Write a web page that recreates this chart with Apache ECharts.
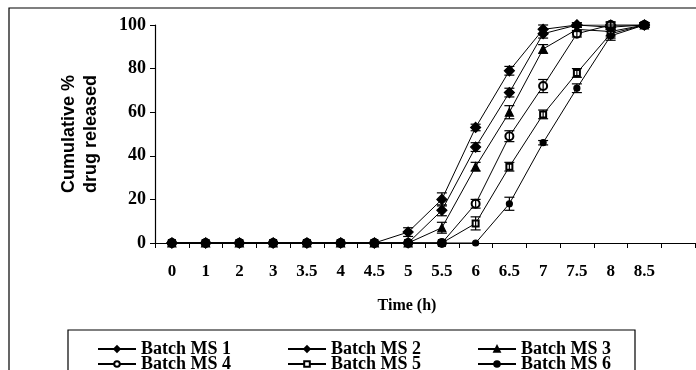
<!DOCTYPE html>
<html>
<head>
<meta charset="utf-8">
<script src="https://cdn.jsdelivr.net/npm/echarts@6/dist/echarts.min.js"></script>
<style>
  html, body { margin: 0; padding: 0; background: #fff; }
  #myChart { width: 696px; height: 370px; }
</style>
</head>
<body>
<div id="myChart"></div>
<script>
// time points (h), last slot is an empty category
const timeLabels = ["0", "1", "2", "3", "3.5", "4", "4.5", "5", "5.5", "6", "6.5", "7", "7.5", "8", "8.5", ""];
const yTicks = [0, 20, 40, 60, 80, 100];

const ms1 = [0, 0, 0, 0, 0, 0, 0, 5, 20, 53, 79, 98, 100, 100, 100];
const ms2 = [0, 0, 0, 0, 0, 0, 0, 0, 15, 44, 69, 96, 100, 99, 100];
const ms3 = [0, 0, 0, 0, 0, 0, 0, 0, 7, 35, 60, 89, 98, 97, 100];
const ms4 = [0, 0, 0, 0, 0, 0, 0, 0, 0, 18, 49, 72, 96, 100, 100];
const ms5 = [0, 0, 0, 0, 0, 0, 0, 0, 0, 9, 35, 59, 78, 96, 100];
const ms6 = [0, 0, 0, 0, 0, 0, 0, 0, 0, 0, 18, 46, 71, 95, 100];

// error bars (+/-)
const err1 = [0, 0, 0, 0, 0, 0, 0, 2, 3, 1.5, 2, 2, 1, 1, 1];
const err2 = [0, 0, 0, 0, 0, 0, 0, 0, 2.5, 2, 2, 2, 1, 1, 1];
const err3 = [0, 0, 0, 0, 0, 0, 0, 0, 2.5, 2, 3, 2, 1, 2, 1];
const err4 = [0, 0, 0, 0, 0, 0, 0, 0, 0, 2, 2.5, 3, 1.5, 1.5, 1];
const err5 = [0, 0, 0, 0, 0, 0, 0, 0, 0, 3, 2, 2, 2, 2, 1];
const err6 = [0, 0, 0, 0, 0, 0, 0, 0, 0, 0, 3, 1, 2, 2, 1];

const names = ["Batch MS 1", "Batch MS 2", "Batch MS 3", "Batch MS 4", "Batch MS 5", "Batch MS 6"];
const values = [ms1, ms2, ms3, ms4, ms5, ms6];
const errors = [err1, err2, err3, err4, err5, err6];
const symbols = ["diamond", "diamond", "triangle", "emptyCircle", "emptyRect", "circle"];
const symbolSizes = [10, 10, 8, 8, 6, 6];

let myChart = echarts.init(document.getElementById("myChart"));

const serif = "Liberation Serif";
const sans = "Liberation Sans";

let series = [];
values.forEach(function (v, i) {
  series.push({
    name: names[i],
    type: "line",
    data: v,
    symbol: symbols[i],
    symbolSize: symbolSizes[i],
    showAllSymbol: true,
    lineStyle: { color: "#000", width: 1 },
    itemStyle: { color: "#000", borderColor: "#000", borderWidth: 1.2 },
    emphasis: { disabled: true },
    z: 3,
  });
  //error bars
  series.push({
    type: "custom",
    silent: true,
    z: 4,
    data: v.map(function (val, k) { return [k, val, errors[i][k]]; }),
    renderItem: function (params, api) {
      const e = api.value(2);
      if (!e) return;
      const x = api.value(0);
      const hi = api.coord([x, api.value(1) + e]);
      const lo = api.coord([x, api.value(1) - e]);
      const w = 5;
      const st = { stroke: "#000", lineWidth: 1.2 };
      return {
        type: "group",
        children: [
          { type: "line", shape: { x1: hi[0], y1: hi[1], x2: lo[0], y2: lo[1] }, style: st },
          { type: "line", shape: { x1: hi[0] - w, y1: hi[1], x2: hi[0] + w, y2: hi[1] }, style: st },
          { type: "line", shape: { x1: lo[0] - w, y1: lo[1], x2: lo[0] + w, y2: lo[1] }, style: st },
        ],
      };
    },
  });
});

const legendText = { fontFamily: serif, fontWeight: "bold", fontSize: 18, color: "#000" };

let option = {
  animation: false,
  backgroundColor: "#fff",
  grid: { left: 155, right: 1, top: 25, bottom: 127 },
  legend: [
    {
      data: names.slice(0, 3),
      left: 92, top: 335,
      itemWidth: 38, itemHeight: 7, itemGap: 56,
      textStyle: legendText,
      selectedMode: false,
    },
    {
      data: names.slice(3),
      left: 92, top: 350,
      itemWidth: 38, itemHeight: 7, itemGap: 56,
      textStyle: legendText,
      selectedMode: false,
    },
  ],
  xAxis: {
    type: "category",
    data: timeLabels,
    boundaryGap: true,
    name: "Time (h)",
    nameLocation: "middle",
    nameGap: 55,
    nameTextStyle: { fontFamily: serif, fontWeight: "bold", fontSize: 16, color: "#000", padding: [0, 36, 0, 0] },
    axisLine: { lineStyle: { color: "#000", width: 1.2 } },
    axisTick: { show: true, length: 5, lineStyle: { color: "#000" } },
    axisLabel: { fontFamily: serif, fontWeight: "bold", fontSize: 17, color: "#000", margin: 20 },
    splitLine: { show: false },
  },
  yAxis: {
    type: "value",
    min: yTicks[0],
    max: yTicks[yTicks.length - 1],
    interval: 20,
    name: "Cumulative %\ndrug released",
    nameLocation: "middle",
    nameGap: 53,
    nameTextStyle: { fontFamily: sans, fontWeight: "bold", fontSize: 18, lineHeight: 22, color: "#000" },
    axisLine: { show: true, lineStyle: { color: "#000", width: 1.2 } },
    axisTick: { show: true, length: 5, lineStyle: { color: "#000" } },
    axisLabel: { fontFamily: serif, fontWeight: "bold", fontSize: 18, color: "#000", margin: 9 },
    splitLine: { show: false },
  },
  graphic: [
    // outer frame
    { type: "rect", shape: { x: 9, y: 8, width: 700, height: 380 }, style: { fill: null, stroke: "#000", lineWidth: 1.2 }, silent: true, z: -1 },
    // legend box
    { type: "rect", shape: { x: 68, y: 330, width: 567, height: 50 }, style: { fill: null, stroke: "#000", lineWidth: 1.2 }, silent: true, z: -1 },
  ],
  series: series,
};
myChart.setOption(option);
</script>
</body>
</html>
